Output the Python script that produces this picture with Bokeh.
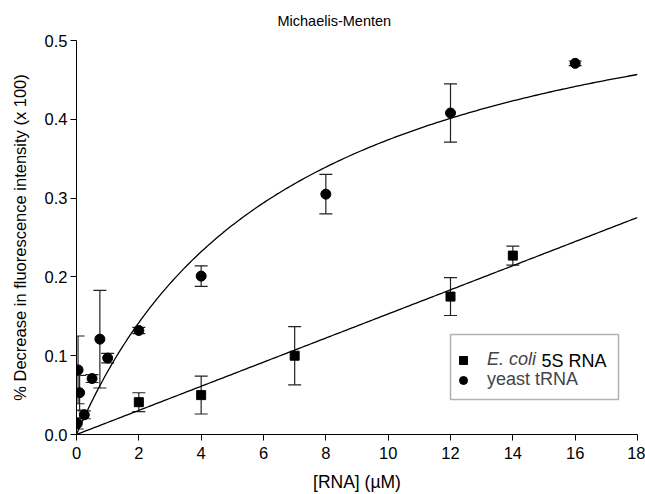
import numpy as np
from bokeh.plotting import figure
from bokeh.models import (Range1d, Whisker, ColumnDataSource, Legend, LegendItem, Label,
                          BoxAnnotation, FixedTicker, NumeralTickFormatter, TeeHead)
from bokeh.embed import file_html
from bokeh.resources import INLINE

# ---- data ----
trna_x = [0.025, 0.05, 0.1, 0.25, 0.5, 0.75, 1, 2, 4, 8, 12, 16]
trna_y = [0.014, 0.082, 0.053, 0.025, 0.071, 0.121, 0.097, 0.132, 0.201, 0.305, 0.408, 0.471]
trna_err = [0.007, 0.043, 0.022, 0.005, 0.005, 0.062, 0.006, 0.004, 0.013, 0.025, 0.037, 0.003]

ecoli_x = [2, 4, 7, 12, 14]
ecoli_y = [0.041, 0.050, 0.100, 0.175, 0.227]
ecoli_err = [0.012, 0.024, 0.037, 0.024, 0.012]

# fitted Michaelis-Menten parameters
trna_vmax, trna_km = 0.632, 6.9
ecoli_slope = 0.0153

x_ticks = [0, 2, 4, 6, 8, 10, 12, 14, 16, 18]
y_ticks = [0.0, 0.1, 0.2, 0.3, 0.4, 0.5]

FONT = "Liberation Sans"

p = figure(width=645, height=494, output_backend="svg", toolbar_location=None,
           x_range=Range1d(0, 18), y_range=Range1d(0, 0.5),
           min_border_left=76, min_border_right=8, min_border_top=40, min_border_bottom=59)
p.outline_line_color = None
p.xgrid.visible = False
p.ygrid.visible = False

p.title.text = "Michaelis-Menten"
p.title.text_font = FONT
p.title.text_font_size = "14.5px"
p.title.text_font_style = "normal"
p.title.text_color = "black"
p.title.align = "left"
p.title.offset = 201
p.title.standoff = 20
p.title.vertical_align = "top"

for ax in (p.xaxis[0], p.yaxis[0]):
    ax.axis_line_color = "black"
    ax.major_tick_line_color = "black"
    ax.major_tick_out = 6
    ax.major_tick_in = 0
    ax.minor_tick_line_color = None
    ax.major_label_text_font = FONT
    ax.major_label_text_font_size = "16.5px"
    ax.major_label_text_color = "black"
    ax.axis_label_text_font = FONT
    ax.axis_label_text_font_style = "normal"
    ax.axis_label_text_color = "black"

p.xaxis.axis_label_text_font_size = "17.5px"
p.yaxis.axis_label_text_font_size = "16.5px"
p.xaxis.ticker = FixedTicker(ticks=x_ticks)
p.yaxis.ticker = FixedTicker(ticks=y_ticks)
p.yaxis.formatter = NumeralTickFormatter(format="0.0")
p.xaxis.axis_label = "[RNA] (\u00b5M)"
p.yaxis.axis_label = "% Decrease in fluorescence intensity (x 100)"
p.xaxis.major_label_standoff = 6
p.yaxis.major_label_standoff = 3
p.xaxis.axis_label_standoff = 10
p.yaxis.axis_label_standoff = 13

# fitted curves
xs = np.linspace(0, 18, 200)
p.line(xs, trna_vmax * xs / (trna_km + xs), line_color="black", line_width=1.3)
p.line(xs, ecoli_slope * xs, line_color="black", line_width=1.3)

# error bars
tsrc = ColumnDataSource(dict(x=trna_x, y=trna_y,
                             lo=[a - b for a, b in zip(trna_y, trna_err)],
                             hi=[a + b for a, b in zip(trna_y, trna_err)]))
esrc = ColumnDataSource(dict(x=ecoli_x, y=ecoli_y,
                             lo=[a - b for a, b in zip(ecoli_y, ecoli_err)],
                             hi=[a + b for a, b in zip(ecoli_y, ecoli_err)]))
for src in (tsrc, esrc):
    w = Whisker(source=src, base="x", lower="lo", upper="hi", dimension="height",
                line_color="#222222", line_width=1.2,
                upper_head=TeeHead(size=13, line_color="#222222", line_width=1.2),
                lower_head=TeeHead(size=13, line_color="#222222", line_width=1.2))
    p.add_layout(w)

sq = p.scatter("x", "y", source=esrc, marker="square", size=9, color="black")
ci = p.scatter("x", "y", source=tsrc, marker="circle", size=10, color="black")

# legend (frame-relative screen units)
box = BoxAnnotation(left=374, right=542, top=100, bottom=35,
                    left_units="screen", right_units="screen", top_units="screen", bottom_units="screen",
                    fill_color="white", fill_alpha=1, line_color="black", line_width=1.5, level="annotation")
p.add_layout(box)

legA = Legend(items=[LegendItem(label="E. coli", renderers=[sq])], location=(377, 64),
              label_text_font=FONT, label_text_font_size="18px", label_text_font_style="italic",
              border_line_color=None, background_fill_alpha=0, padding=0, margin=0,
              glyph_width=20, glyph_height=20, label_height=20, label_standoff=14, spacing=0)
legB = Legend(items=[LegendItem(label="yeast tRNA", renderers=[ci])], location=(377, 44),
              label_text_font=FONT, label_text_font_size="18px",
              border_line_color=None, background_fill_alpha=0, padding=0, margin=0,
              glyph_width=20, glyph_height=20, label_height=20, label_standoff=14, spacing=0)
p.add_layout(legA)
p.add_layout(legB)
p.add_layout(Label(x=465, y=74, x_units="screen", y_units="screen", text="5S RNA",
                   text_font=FONT, text_font_size="18px", text_baseline="middle",
                   text_color="black"))

open("out.html", "w").write(file_html(p, INLINE))
